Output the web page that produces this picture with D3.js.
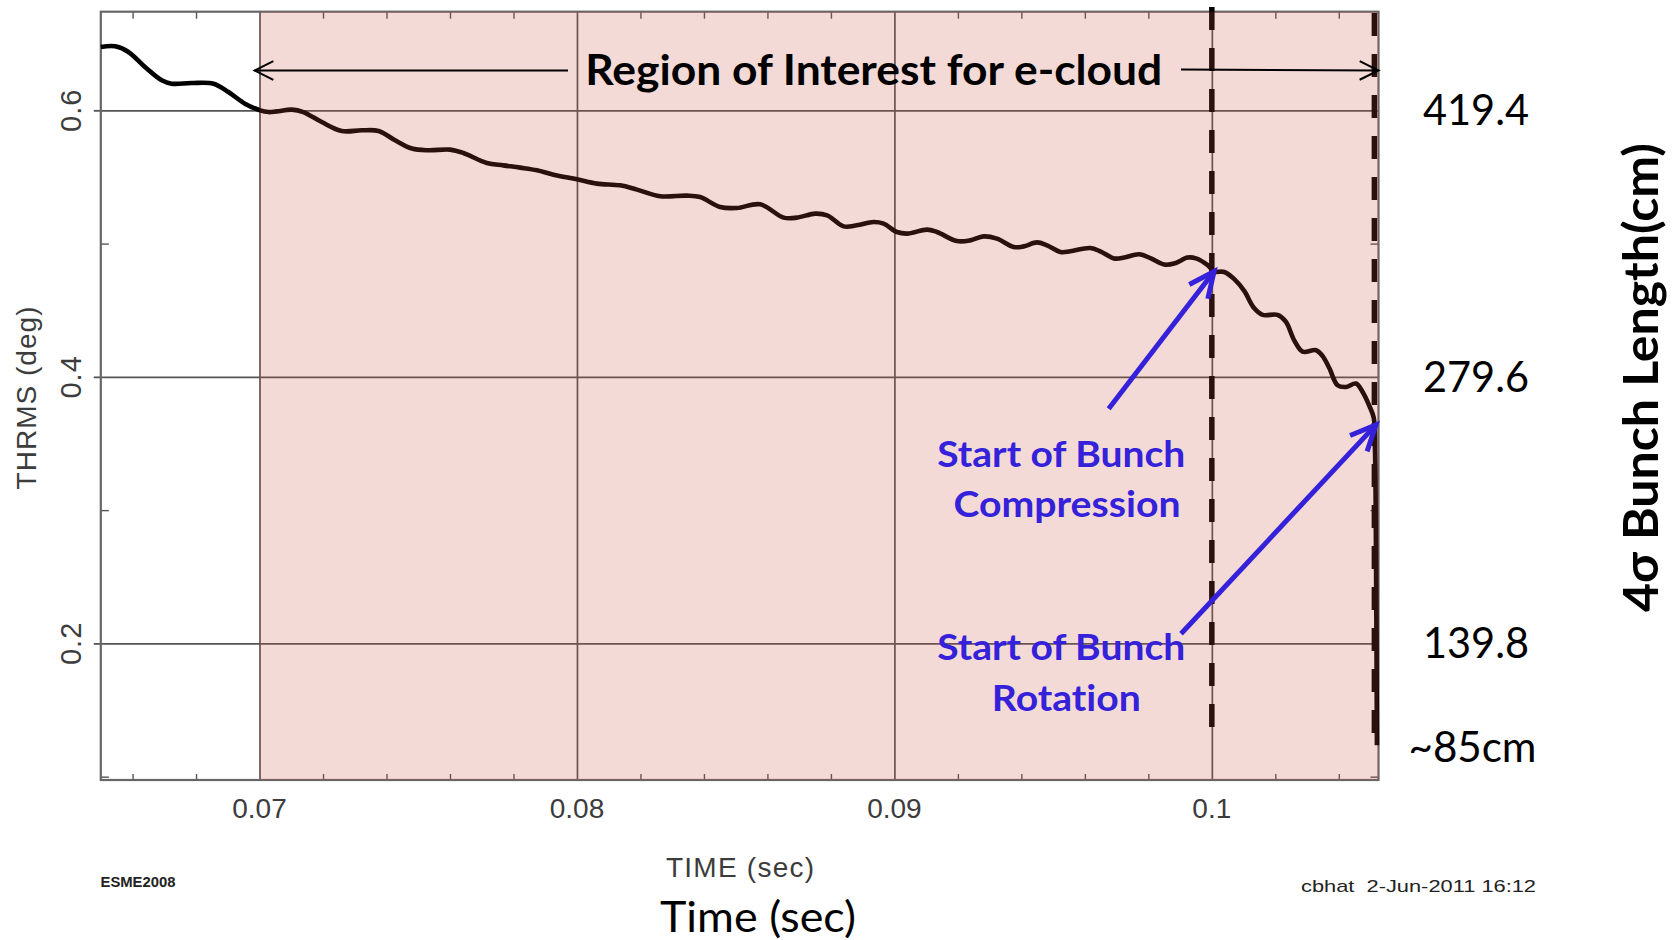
<!DOCTYPE html>
<html>
<head>
<meta charset="utf-8">
<script src="https://cdn.jsdelivr.net/npm/d3@7"></script>
<style>
  body { margin: 0; background: #fff; }
  svg { display: block; }
  text { font-variant-ligatures: none; font-feature-settings: "liga" 0, "clig" 0; }
</style>
</head>
<body>
<svg id="chart" width="1678" height="940"></svg>
<script>
// ---- data: rms phase width (THRMS, degrees) versus time (seconds) ----
const timeSec = [
  0.0650, 0.06545, 0.06587, 0.06639, 0.06692, 0.06723, 0.06786, 0.06855, 0.06902, 0.06954,
  0.07002, 0.07028, 0.07054, 0.07102, 0.07138, 0.07196, 0.07259, 0.07322, 0.07375, 0.07427,
  0.07480, 0.07532, 0.07600, 0.07642, 0.07716, 0.07768, 0.07821, 0.07874, 0.07926, 0.08000,
  0.08063, 0.08136, 0.08189, 0.08262, 0.08346, 0.08388, 0.08451, 0.08504, 0.08577, 0.08651,
  0.08693, 0.08751, 0.08788, 0.08840, 0.08882, 0.08934, 0.08966, 0.09008, 0.09040, 0.09103,
  0.09134, 0.09197, 0.09239, 0.09281, 0.09323, 0.09376, 0.09407, 0.09449, 0.09481, 0.09523,
  0.09554, 0.09617, 0.09650, 0.09692, 0.09724, 0.09771, 0.09808, 0.09850, 0.09881, 0.09924,
  0.09950, 0.09987, 0.10007, 0.10039, 0.10070, 0.10102, 0.10133, 0.10160, 0.10207, 0.10233,
  0.10260, 0.10286, 0.10328, 0.10349, 0.10370, 0.10396, 0.10422, 0.10454, 0.10475, 0.10496,
  0.10510, 0.10514, 0.10517, 0.10520
];
const thrmsDeg = [
  0.6475, 0.6480, 0.6438, 0.6325, 0.6225, 0.6200, 0.6205, 0.6200, 0.6137, 0.6050,
  0.6000, 0.5987, 0.5992, 0.6005, 0.5987, 0.5912, 0.5845, 0.5850, 0.5845, 0.5775,
  0.5713, 0.5700, 0.5705, 0.5680, 0.5605, 0.5587, 0.5570, 0.5550, 0.5517, 0.5482,
  0.5450, 0.5437, 0.5405, 0.5355, 0.5360, 0.5349, 0.5274, 0.5267, 0.5295, 0.5195,
  0.5195, 0.5225, 0.5212, 0.5129, 0.5137, 0.5162, 0.5150, 0.5087, 0.5075, 0.5105,
  0.5087, 0.5019, 0.5024, 0.5054, 0.5037, 0.4974, 0.4979, 0.5009, 0.4987, 0.4937,
  0.4942, 0.4967, 0.4940, 0.4889, 0.4895, 0.4920, 0.4889, 0.4843, 0.4850, 0.4895,
  0.4889, 0.4838, 0.4791, 0.4787, 0.4735, 0.4645, 0.4516, 0.4465, 0.4465, 0.4414,
  0.4272, 0.4189, 0.4200, 0.4156, 0.4066, 0.3937, 0.3924, 0.3950, 0.3886, 0.3783,
  0.3693, 0.3448, 0.2700, 0.1235
];

// axis ticks
const xMajorTicks = [0.07, 0.08, 0.09, 0.1];
const xTickLabels = ["0.07", "0.08", "0.09", "0.1"];
const xMinorTicks = [0.066, 0.068, 0.072, 0.074, 0.076, 0.078, 0.082, 0.084, 0.086, 0.088,
                     0.092, 0.094, 0.096, 0.098, 0.102, 0.104];
const yMajorTicks = [0.2, 0.4, 0.6];
const yTickLabels = ["0.2", "0.4", "0.6"];
const yMinorTicks = [0.1, 0.3, 0.5];

// secondary scale: 4-sigma bunch length in cm
const bunchLengthTicksCm = [419.4, 279.6, 139.8];
const finalBunchLengthCm = 85;
const cmPerDeg = 419.4 / 0.6;

// time markers (s)
const roiStart = 0.07;
const compressionStart = 0.1;
const rotationStart = 0.10512;

// annotation arrows, in data units [time, THRMS]
const compressionArrow = { from: [0.09675, 0.3761], to: [0.10007, 0.4791] };
const rotationArrow = { from: [0.09903, 0.2072], to: [0.10517, 0.3640] };

// ---- layout ----
const W = 1678, H = 940;
const plot = { left: 100.8, right: 1378.5, top: 11.7, bottom: 780 };
const blue = "#3421d9";

const svg = d3.select("#chart");
svg.append("rect").attr("width", W).attr("height", H).attr("fill", "#fff");

const x = d3.scaleLinear().domain([0.065, 0.10525]).range([plot.left, plot.right]);
const y = d3.scaleLinear().domain([0.0975, 0.674]).range([plot.bottom, plot.top]);
const yCm = d3.scaleLinear().domain(y.domain().map(d => d * cmPerDeg)).range(y.range());

const plotW = plot.right - plot.left, plotH = plot.bottom - plot.top;
const under = svg.append("g");

// gridlines at major ticks
under.append("g")
  .attr("transform", `translate(0,${plot.bottom})`)
  .call(d3.axisBottom(x).tickValues(xMajorTicks).tickSize(-plotH).tickFormat(""))
  .call(g => g.select(".domain").remove())
  .call(g => g.selectAll("line").attr("stroke", "#555").attr("stroke-width", 1.7));
under.append("g")
  .attr("transform", `translate(${plot.left},0)`)
  .call(d3.axisLeft(y).tickValues(yMajorTicks).tickSize(-plotW).tickFormat(""))
  .call(g => g.select(".domain").remove())
  .call(g => g.selectAll("line").attr("stroke", "#555").attr("stroke-width", 1.7));

// major tick stubs outside the left edge
under.append("g")
  .attr("transform", `translate(${plot.left},0)`)
  .call(d3.axisLeft(y).tickValues(yMajorTicks).tickSize(7).tickFormat(""))
  .call(g => g.select(".domain").remove())
  .call(g => g.selectAll("line").attr("stroke", "#555").attr("stroke-width", 1.8));

// minor ticks pointing inward on all four sides
const minorStyle = g => {
  g.select(".domain").remove();
  g.selectAll("line").attr("stroke", "#555").attr("stroke-width", 1.4);
};
under.append("g").attr("transform", `translate(0,${plot.bottom})`)
  .call(d3.axisBottom(x).tickValues(xMinorTicks).tickSize(-6).tickFormat("")).call(minorStyle);
under.append("g").attr("transform", `translate(0,${plot.top})`)
  .call(d3.axisTop(x).tickValues(xMinorTicks).tickSize(-7).tickFormat("")).call(minorStyle);
under.append("g").attr("transform", `translate(${plot.left},0)`)
  .call(d3.axisLeft(y).tickValues(yMinorTicks).tickSize(-8).tickFormat("")).call(minorStyle);
under.append("g").attr("transform", `translate(${plot.right},0)`)
  .call(d3.axisRight(y).tickValues(yMinorTicks).tickSize(-8).tickFormat("")).call(minorStyle);

// frame
under.append("rect")
  .attr("x", plot.left).attr("y", plot.top).attr("width", plotW).attr("height", plotH)
  .attr("fill", "none").attr("stroke", "#666").attr("stroke-width", 2.2);

// THRMS curve
const pts = timeSec.map((t, i) => [t, thrmsDeg[i]]);
under.append("path")
  .datum(pts)
  .attr("fill", "none")
  .attr("stroke", "#000")
  .attr("stroke-width", 4.6)
  .attr("stroke-linejoin", "round")
  .attr("d", d3.line().x(d => x(d[0])).y(d => y(d[1])).curve(d3.curveCatmullRom.alpha(0.5)));

// dashed markers: start of compression and start of rotation
under.append("line")
  .attr("x1", x(compressionStart)).attr("x2", x(compressionStart))
  .attr("y1", 7).attr("y2", 738)
  .attr("stroke", "#000").attr("stroke-width", 5.5).attr("stroke-dasharray", "23 18");
under.append("line")
  .attr("x1", x(rotationStart)).attr("x2", x(rotationStart))
  .attr("y1", 13).attr("y2", 746)
  .attr("stroke", "#000").attr("stroke-width", 5.5).attr("stroke-dasharray", "23 18");

// shaded region of interest
svg.append("rect")
  .attr("x", x(roiStart)).attr("y", plot.top)
  .attr("width", plot.right - x(roiStart)).attr("height", plotH)
  .attr("fill", "rgb(196,80,60)").attr("fill-opacity", 0.21);

// tick labels
const tickFont = "'Liberation Sans', Arial, sans-serif";
svg.append("g").selectAll("text").data(xMajorTicks).join("text")
  .attr("x", d => x(d)).attr("y", 818)
  .attr("text-anchor", "middle")
  .attr("font-family", tickFont).attr("font-size", 28).attr("fill", "#3c3c3c")
  .text((d, i) => xTickLabels[i]);
svg.append("g").selectAll("text").data(yMajorTicks).join("text")
  .attr("transform", d => `translate(81,${y(d)}) rotate(-90)`)
  .attr("text-anchor", "middle")
  .attr("font-family", tickFont).attr("font-size", 29).attr("fill", "#3c3c3c")
  .attr("letter-spacing", 1)
  .text((d, i) => yTickLabels[i]);

svg.append("text")
  .attr("transform", "translate(36,398) rotate(-90)")
  .attr("text-anchor", "middle")
  .attr("font-family", tickFont).attr("font-size", 28).attr("fill", "#3c3c3c")
  .attr("textLength", 183)
  .text("THRMS (deg)");
svg.append("text")
  .attr("x", 740).attr("y", 876.7)
  .attr("text-anchor", "middle")
  .attr("font-family", tickFont).attr("font-size", 28).attr("fill", "#3c3c3c")
  .attr("textLength", 148)
  .text("TIME (sec)");
svg.append("text")
  .attr("x", 100.5).attr("y", 886.7)
  .attr("font-family", tickFont).attr("font-size", 14).attr("font-weight", "bold").attr("fill", "#222")
  .attr("textLength", 75).attr("lengthAdjust", "spacingAndGlyphs")
  .text("ESME2008");
svg.append("text")
  .attr("x", 1301).attr("y", 891.7)
  .attr("font-family", tickFont).attr("font-size", 17).attr("fill", "#222")
  .style("white-space", "pre")
  .attr("textLength", 235).attr("lengthAdjust", "spacingAndGlyphs")
  .text("cbhat  2-Jun-2011 16:12");

// region-of-interest banner with double arrow
const sans = "Lato, 'Open Sans', sans-serif";
const bannerY = 70.5;
function openHead(g, tip, tail, len, ang, color, width) {
  const a = Math.atan2(tail[1] - tip[1], tail[0] - tip[0]);
  const p1 = [tip[0] + len * Math.cos(a + ang), tip[1] + len * Math.sin(a + ang)];
  const p2 = [tip[0] + len * Math.cos(a - ang), tip[1] + len * Math.sin(a - ang)];
  g.append("path")
    .attr("d", `M${p1[0]},${p1[1]}L${tip[0]},${tip[1]}L${p2[0]},${p2[1]}`)
    .attr("fill", "none").attr("stroke", color).attr("stroke-width", width)
    .attr("stroke-linejoin", "miter");
}
const banner = svg.append("g");
const leftTip = [x(roiStart) - 5, bannerY], leftTail = [568, bannerY];
const rightTip = [plot.right, bannerY], rightTail = [1181, bannerY - 1];
banner.append("line").attr("x1", leftTail[0]).attr("y1", leftTail[1]).attr("x2", leftTip[0]).attr("y2", leftTip[1])
  .attr("stroke", "#000").attr("stroke-width", 2);
banner.append("line").attr("x1", rightTail[0]).attr("y1", rightTail[1]).attr("x2", rightTip[0]).attr("y2", rightTip[1])
  .attr("stroke", "#000").attr("stroke-width", 2);
openHead(banner, leftTip, leftTail, 21, 0.46, "#000", 2);
openHead(banner, rightTip, rightTail, 21, 0.46, "#000", 2);
banner.append("text")
  .attr("x", 873.8).attr("y", 85)
  .attr("text-anchor", "middle")
  .attr("font-family", sans).attr("font-weight", "bold").attr("font-size", 42).attr("fill", "#000")
  .attr("textLength", 577).attr("lengthAdjust", "spacingAndGlyphs")
  .text("Region of Interest for e-cloud");

// blue annotations
const ann = svg.append("g");
[compressionArrow, rotationArrow].forEach(a => {
  const tail = [x(a.from[0]), y(a.from[1])], tip = [x(a.to[0]), y(a.to[1])];
  ann.append("line").attr("x1", tail[0]).attr("y1", tail[1]).attr("x2", tip[0]).attr("y2", tip[1])
    .attr("stroke", blue).attr("stroke-width", 5);
  openHead(ann, tip, tail, 28, 0.43, blue, 5);
});
const blueLines = [
  { text: "Start of Bunch", cx: 1061.3, base: 466.7, w: 248 },
  { text: "Compression", cx: 1067, base: 516.7, w: 227 },
  { text: "Start of Bunch", cx: 1061.2, base: 660, w: 248 },
  { text: "Rotation", cx: 1066.3, base: 710.5, w: 149 }
];
ann.selectAll("text.note").data(blueLines).join("text")
  .attr("class", "note")
  .attr("x", d => d.cx).attr("y", d => d.base)
  .attr("text-anchor", "middle")
  .attr("font-family", sans).attr("font-weight", "bold").attr("font-size", 37).attr("fill", blue)
  .attr("textLength", d => d.w).attr("lengthAdjust", "spacingAndGlyphs")
  .text(d => d.text);

// secondary axis labels: bunch length in cm
const right = svg.append("g");
right.selectAll("text.cm").data(bunchLengthTicksCm).join("text")
  .attr("class", "cm")
  .attr("x", 1476).attr("y", d => yCm(d) + 15)
  .attr("text-anchor", "middle")
  .attr("font-family", sans).attr("font-size", 42).attr("fill", "#000")
  .attr("textLength", 106).attr("lengthAdjust", "spacingAndGlyphs")
  .text(d => d.toFixed(1));
right.append("text")
  .attr("x", 1472.5).attr("y", yCm(finalBunchLengthCm) + 14)
  .attr("text-anchor", "middle")
  .attr("font-family", sans).attr("font-size", 42).attr("fill", "#000")
  .attr("textLength", 128).attr("lengthAdjust", "spacingAndGlyphs")
  .text(`~${finalBunchLengthCm}cm`);
right.append("text")
  .attr("transform", "translate(1658,377.5) rotate(-90)")
  .attr("text-anchor", "middle")
  .attr("font-family", sans).attr("font-weight", "bold").attr("font-size", 47).attr("fill", "#000")
  .attr("textLength", 469).attr("lengthAdjust", "spacingAndGlyphs")
  .text("4σ Bunch Length(cm)");

// bottom caption
svg.append("text")
  .attr("x", 758).attr("y", 931.7)
  .attr("text-anchor", "middle")
  .attr("font-family", sans).attr("font-size", 42).attr("fill", "#000")
  .attr("textLength", 196).attr("lengthAdjust", "spacingAndGlyphs")
  .text("Time (sec)");
</script>
</body>
</html>
